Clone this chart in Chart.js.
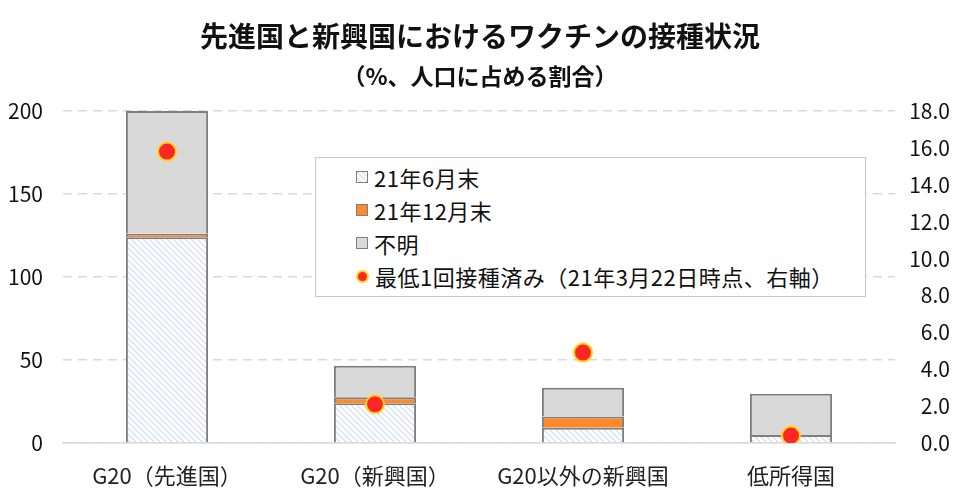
<!DOCTYPE html>
<html lang="ja">
<head>
<meta charset="UTF-8" />
<title>先進国と新興国におけるワクチンの接種状況</title>
<script src="https://cdn.jsdelivr.net/npm/chart.js"></script>
<style>
  body {
    margin: 0;
    background: #fff;
    font-family: 'Noto Sans CJK JP', sans-serif;
  }
  #wrap {
    position: relative;
    width: 960px;
    height: 502px;
  }
  #title {
    position: absolute;
    left: 0; right: 0; top: 15px;
    text-align: center;
    font-size: 28px;
    font-weight: bold;
    color: #111;
  }
  #subtitle {
    position: absolute;
    left: 0; right: 0; top: 58px;
    text-align: center;
    font-size: 23px;
    font-weight: bold;
    color: #111;
  }
  #legend {
    position: absolute;
    left: 315px; top: 157px;
    width: 549px; height: 138px;
    border: 1.5px solid #c8c8c8;
    background: #fff;
  }
  .item {
    position: absolute;
    left: 40px;
    font-size: 22px;
    letter-spacing: 0.5px;
    color: #111;
    display: flex;
    align-items: center;
    white-space: nowrap;
  }
  .mk {
    width: 10px; height: 10px;
    border: 1.5px solid #7f7f7f;
    margin-right: 6px;
  }
  .dot {
    width: 9px; height: 9px;
    border-radius: 50%;
    background: #ff2626;
    border: 2px solid #ffd21e;
    margin-right: 6px;
  }
  canvas { position: absolute; left: 0; top: 0; }
</style>
</head>
<body>
<div id="wrap">
  <canvas id="c" width="960" height="502"></canvas>
  <div id="title">先進国と新興国におけるワクチンの接種状況</div>
  <div id="subtitle">（%、人口に占める割合）</div>
  <div id="legend">
    <div class="item" style="top:3px"><span class="mk" id="hatchMk"></span>21年6月末</div>
    <div class="item" style="top:36px"><span class="mk" style="background:#ff8a2b"></span>21年12月末</div>
    <div class="item" style="top:69px"><span class="mk" style="background:#d9d9d9"></span>不明</div>
    <div class="item" style="top:102px"><span class="dot"></span>最低1回接種済み（21年3月22日時点、右軸）</div>
  </div>
</div>

<script>
  const categories = ['G20（先進国）', 'G20（新興国）', 'G20以外の新興国', '低所得国'];
  const june21 = [124, 24, 9.2, 4.8];
  const dec21 = [2, 3.5, 6.7, 0];
  const unknown = [74, 19, 17.4, 24.9];
  const atLeastOnce = [15.8, 2.1, 4.9, 0.4];

  // diagonal hatch for the June segment
  function makeHatch() {
    const p = document.createElement('canvas');
    p.width = 6; p.height = 6;
    const g = p.getContext('2d');
    g.fillStyle = '#ffffff';
    g.fillRect(0, 0, 6, 6);
    g.strokeStyle = '#cddbf0';
    g.lineWidth = 1.1;
    g.beginPath();
    g.moveTo(0, 0); g.lineTo(6, 6);
    g.moveTo(-3, 3); g.lineTo(3, 9);
    g.moveTo(3, -3); g.lineTo(9, 3);
    g.stroke();
    return p;
  }
  const hatchCanvas = makeHatch();
  const hatch = document.getElementById('c').getContext('2d').createPattern(hatchCanvas, 'repeat');
  document.getElementById('hatchMk').style.background = 'url(' + hatchCanvas.toDataURL() + ')';

  const tickFont = { family: "'Noto Sans CJK JP', sans-serif", size: 21 };
  const catFont = { family: "'Noto Sans CJK JP', sans-serif", size: 22 };
  const barBorder = { top: 2, left: 2, right: 2, bottom: 0 };

  new Chart(document.getElementById('c'), {
    type: 'bar',
    data: {
      labels: categories,
      datasets: [
        { label: '21年6月末', data: june21, backgroundColor: hatch, borderColor: '#7f7f7f', borderWidth: barBorder, order: 2 },
        { label: '21年12月末', data: dec21, backgroundColor: '#ff8a2b', borderColor: '#7f7f7f', borderWidth: barBorder, order: 2 },
        { label: '不明', data: unknown, backgroundColor: '#d9d9d9', borderColor: '#7f7f7f', borderWidth: barBorder, order: 2 },
        {
          type: 'line', label: '最低1回接種済み（21年3月22日時点、右軸）', data: atLeastOnce,
          yAxisID: 'y1', showLine: false, order: 0,
          pointRadius: 9, pointBackgroundColor: '#ff2626',
          pointBorderColor: '#ffd21e', pointBorderWidth: 2
        }
      ]
    },
    options: {
      responsive: false,
      animation: false,
      layout: { padding: { top: 111, bottom: 0, left: 0, right: 10 } },
      datasets: { bar: { barPercentage: 0.395, categoryPercentage: 1 } },
      plugins: { legend: { display: false }, tooltip: { enabled: false } },
      scales: {
        x: {
          stacked: true,
          grid: { display: false },
          border: { display: true, color: '#d9d9d9', width: 1.5 },
          ticks: { font: catFont, color: '#222', padding: 11 },
          afterFit: s => { s.height = 59; }
        },
        y: {
          stacked: true,
          min: 0, max: 200,
          ticks: { stepSize: 50, font: tickFont, color: '#111', padding: 20 },
          grid: { color: '#d9d9d9', lineWidth: 1.5, drawTicks: false },
          border: { display: false, dash: [9, 6] },
          afterFit: s => { s.width = 63; }
        },
        y1: {
          position: 'right',
          min: 0, max: 18,
          ticks: {
            stepSize: 2, font: tickFont, color: '#111', crossAlign: 'far',
            callback: v => v.toFixed(1)
          },
          grid: { display: false, drawTicks: false },
          border: { display: false },
          afterFit: s => { s.width = 55; }
        }
      }
    }
  });
</script>
</body>
</html>
